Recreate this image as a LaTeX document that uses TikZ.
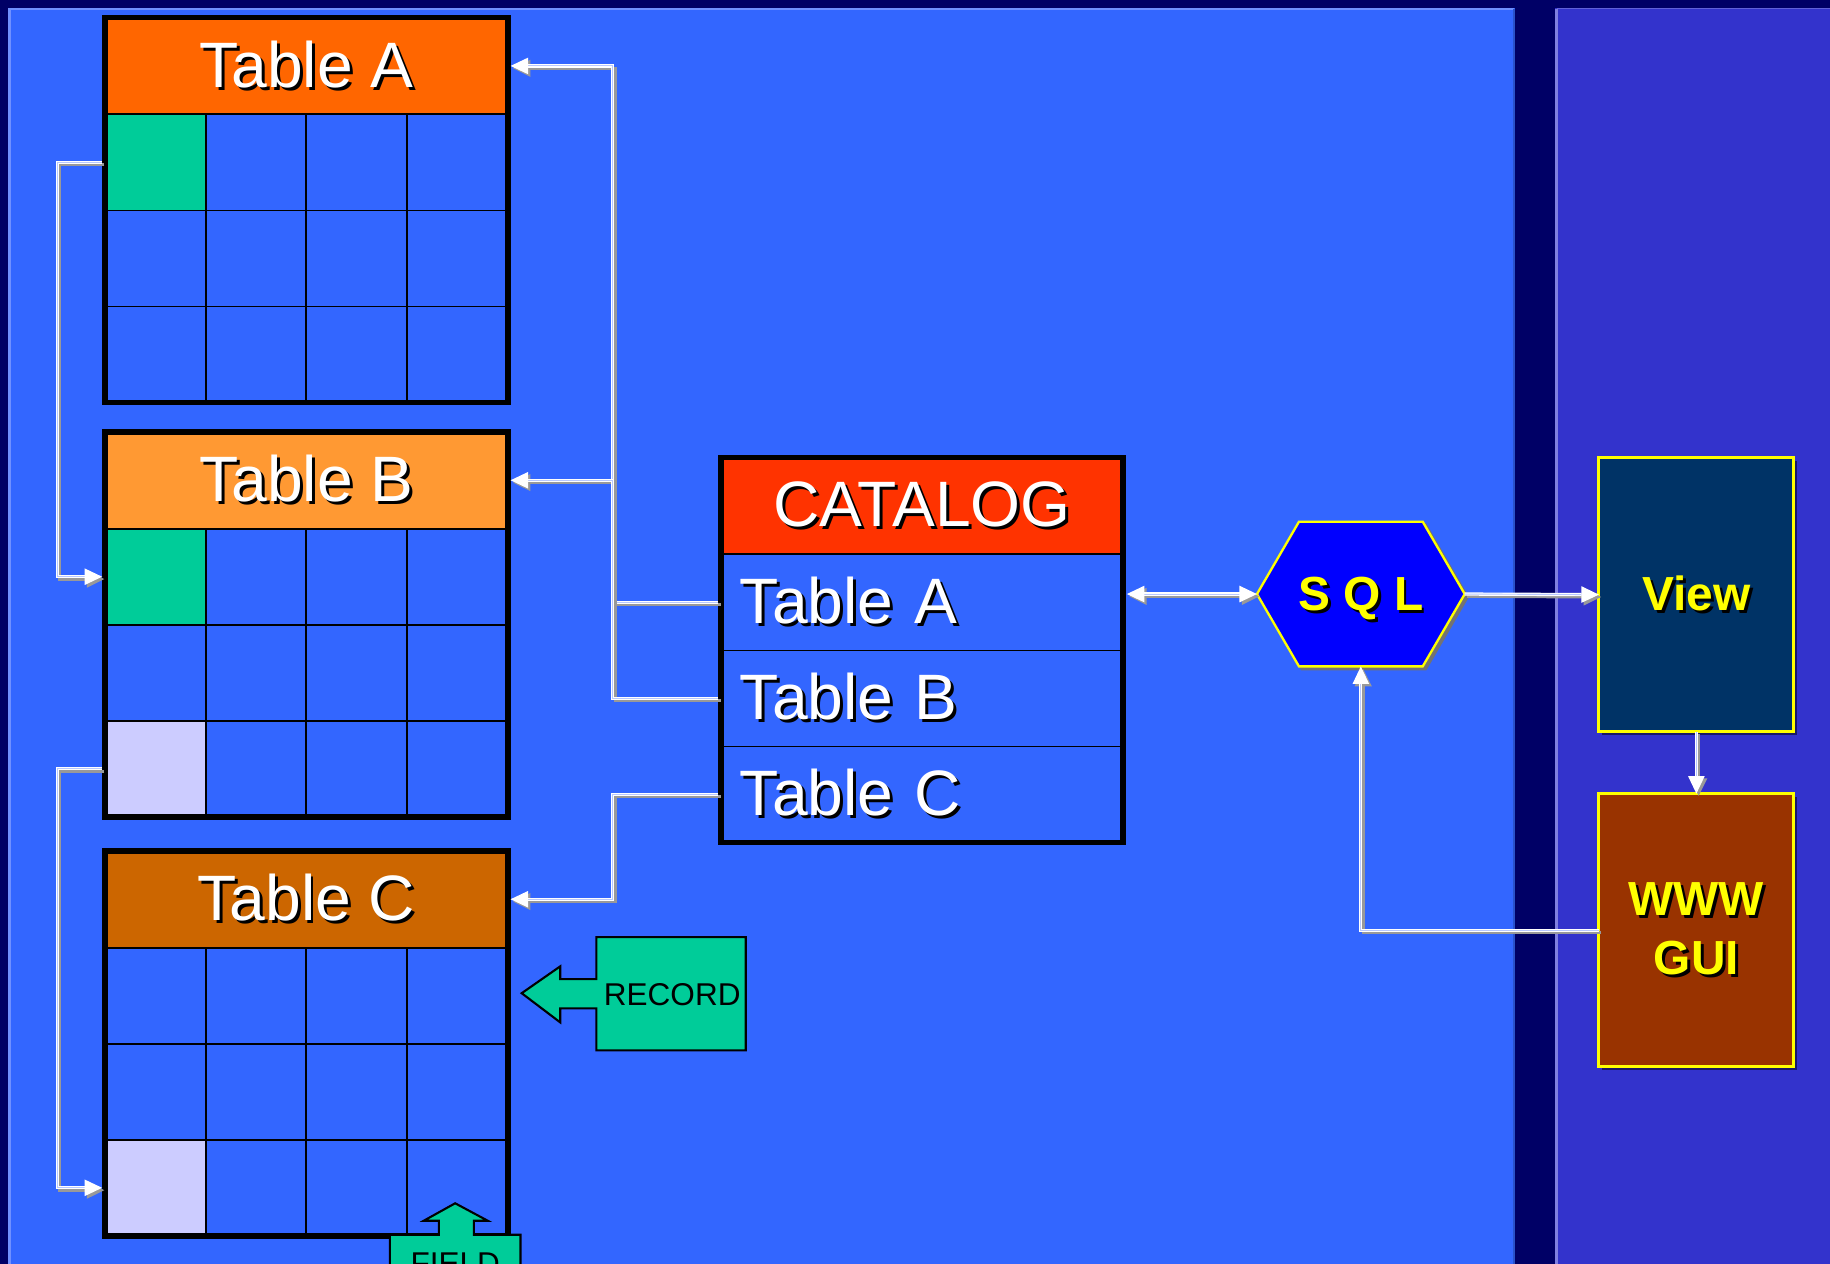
\documentclass[tikz,border=0pt]{standalone}
\usepackage{fontspec}
\setmainfont{Liberation Sans}
\usetikzlibrary{arrows.meta,calc,shadows}

\definecolor{navy}{HTML}{000066}
\definecolor{panel}{HTML}{3366FF}
\definecolor{paneledge}{HTML}{7090FF}
\definecolor{rpanel}{HTML}{3333CC}
\definecolor{rpaneledge}{HTML}{8080E0}
\definecolor{cgreen}{HTML}{00CC99}
\definecolor{clav}{HTML}{CCCCFF}
\definecolor{hdrA}{HTML}{FF6600}
\definecolor{hdrB}{HTML}{FF9933}
\definecolor{hdrC}{HTML}{CC6600}
\definecolor{hdrCat}{HTML}{FF3300}
\definecolor{sqlblue}{HTML}{0000FF}
\definecolor{viewfill}{HTML}{003366}
\definecolor{wwwfill}{HTML}{993300}
\definecolor{yel}{HTML}{FFFF00}
\definecolor{wireinner}{HTML}{B8C8FF}

\newcommand\shd[1]{\leavevmode\rlap{\kern2.5pt\raisebox{-2.5pt}{\color{black}#1}}#1}
\newcommand\cellfill[2]{\fill[#2] ([shift={(0.75pt,-0.75pt)}]#1.north west) rectangle ([shift={(-0.75pt,0.75pt)}]#1.south east);}
\newcommand\dbtab[5]{%
  \node[hdr, fill=#3] (#1-h) at (90,#2) {\shd{#4}};
  \foreach \r in {1,2,3}{\foreach \c in {1,2,3,4}{%
    \node[cell] (#1-\r-\c) at ({90+(\c-1)*86.25},{#2+83+(\r-1)*82.3}) {};
  }}
  #5
  \draw[line width=5pt] (#1-h.north west) rectangle (#1-3-4.south east);
}
\newcommand\wire[2]{\draw[connsh,#1] #2; \draw[conn,#1] #2;}

\begin{document}
\begin{tikzpicture}[x=1pt,y=-1pt,
  hdr/.style={draw=black, line width=1.5pt, minimum width=345pt, minimum height=83pt,
    inner sep=0pt, outer sep=0pt, text=white, font=\fontsize{55}{60}\selectfont, anchor=north west},
  cell/.style={draw=black, line width=1.5pt, minimum width=86.25pt, minimum height=82.3pt,
    inner sep=0pt, outer sep=0pt, anchor=north west},
  catrow/.style={draw=black, line width=1.5pt, text width=312pt, inner xsep=16pt, inner ysep=0pt,
    minimum height=82.3pt, outer sep=0pt, align=left, anchor=north west, text=white,
    font=\fontsize{55}{60}\selectfont},
  conn/.style={draw=white, line width=1pt, double=wireinner, double distance=0.8pt},
  connsh/.style={draw=black!40, line width=2.6pt, transform canvas={shift={(2pt,-2pt)}}},
  tipend/.style={arrows={-Triangle[length=15pt,width=14pt]}},
  tipboth/.style={arrows={Triangle[length=15pt,width=14pt]-Triangle[length=15pt,width=14pt]}},
  vbox/.style={draw=yel, line width=2.5pt, minimum width=167pt, inner sep=0pt, outer sep=0pt,
    text=yel, font=\bfseries\fontsize{41}{50}\selectfont, align=center,
    drop shadow={shadow xshift=3pt, shadow yshift=-3pt, fill=black, opacity=0.5}},
  sqltext/.style={minimum width=178pt, minimum height=124pt, inner sep=0pt, outer sep=0pt,
    text depth=0pt, text=yel, font=\bfseries\fontsize{41}{48}\selectfont},
  flag/.style={fill=cgreen, draw=black, line width=1.8pt, line join=miter},
  flagtext/.style={text=black, font=\fontsize{27}{30}\selectfont, inner sep=0pt}
]
\useasboundingbox (0,0) rectangle (1568,1083);
\clip (0,0) rectangle (1568,1083);
% background and panels
\fill[navy] (0,0) rectangle (1568,1083);
\fill[panel] (7,7) rectangle (1298,1090);
\draw[paneledge, line width=2pt] (8,1090) -- (8,8) -- (1297,8);
\draw[panel!80!black, line width=2pt] (1297,8) -- (1297,1090);
\fill[rpanel] (1332,7) rectangle (1575,1090);
\draw[rpaneledge, line width=2.5pt] (1334,1090) -- (1334,8);
\draw[rpaneledge!60!rpanel, line width=1pt] (1334,7.5) -- (1575,7.5);

% tables
\dbtab{A}{15}{hdrA}{Table A}{\cellfill{A-1-1}{cgreen}}
\dbtab{B}{370}{hdrB}{Table B}{\cellfill{B-1-1}{cgreen}\cellfill{B-3-1}{clav}}
\dbtab{C}{729}{hdrC}{Table C}{\cellfill{C-3-1}{clav}}

% catalog
\node[hdr, fill=hdrCat, minimum width=344pt] (cat-h) at (618,392) {\shd{CATALOG}};
\foreach \r/\txt in {1/Table A,2/Table B,3/Table C}{%
  \node[catrow] (cat-\r) at (618,{475+(\r-1)*82.3}) {\shd{\txt}};
}
\draw[line width=5pt] (cat-h.north west) rectangle (cat-3.south east);

% SQL hexagon
\coordinate (sqlc) at (1166,509);
\filldraw[fill=black!55, draw=black!55, line width=2pt, transform canvas={shift={(2.5pt,-2.5pt)}}]
  ($(sqlc)+(-89,0)$) -- ($(sqlc)+(-53,-62)$) -- ($(sqlc)+(53,-62)$) -- ($(sqlc)+(89,0)$)
  -- ($(sqlc)+(53,62)$) -- ($(sqlc)+(-53,62)$) -- cycle;
\filldraw[fill=sqlblue, draw=yel, line width=2pt]
  ($(sqlc)+(-89,0)$) -- ($(sqlc)+(-53,-62)$) -- ($(sqlc)+(53,-62)$) -- ($(sqlc)+(89,0)$)
  -- ($(sqlc)+(53,62)$) -- ($(sqlc)+(-53,62)$) -- cycle;
\node[sqltext] (sql) at (sqlc) {\shd{S Q L}};

% View and WWW GUI
\node[vbox, fill=viewfill, minimum height=235pt] (view) at (1453.5,509.5) {\shd{View}};
\node[vbox, fill=wwwfill, minimum height=234pt] (www) at (1453.5,797) {\shd{WWW}\\\shd{GUI}};

% RECORD flag
\filldraw[flag] (639,803) -- (511,803) -- (511,839) -- (480,839) -- (480,828) -- (447,851)
  -- (480,876) -- (480,864) -- (511,864) -- (511,900) -- (639,900) -- cycle;
\node[flagtext] (record) at (576,852) {RECORD};

% FIELD flag
\filldraw[flag] (334,1058) -- (376,1058) -- (376,1046) -- (363,1046) -- (390,1031) -- (418,1046)
  -- (406,1046) -- (406,1058) -- (446,1058) -- (446,1110) -- (334,1110) -- cycle;
\node[flagtext, anchor=base] (field) at (390,1092) {FIELD};

% connectors
\wire{tipend, shorten <=2.5pt, shorten >=2.5pt}{(cat-1.west) -- ++(-93,0) |- (A-h.east)}
\wire{tipend, shorten <=2.5pt, shorten >=2.5pt}{(cat-2.west) -- ++(-93,0) |- (B-h.east)}
\wire{tipend, shorten <=2.5pt, shorten >=2.5pt}{(cat-3.west) -- ++(-93,0) |- (C-h.east)}
\wire{tipend, shorten <=2.5pt, shorten >=2.5pt}{(A-1-1.west) -- ++(-41,0) |- (B-1-1.west)}
\wire{tipend, shorten <=2.5pt, shorten >=2.5pt}{(B-3-1.west) -- ++(-41,0) |- (C-3-1.west)}
\wire{tipboth, shorten <=3.5pt}{(cat-1.east |- sql.west) -- (sql.west)}
\wire{tipend}{(sql.east) -- (view.west)}
\wire{tipend}{(view.south) -- (www.north)}
\wire{tipend}{(www.west) -| (sql.south)}
\end{tikzpicture}
\end{document}
